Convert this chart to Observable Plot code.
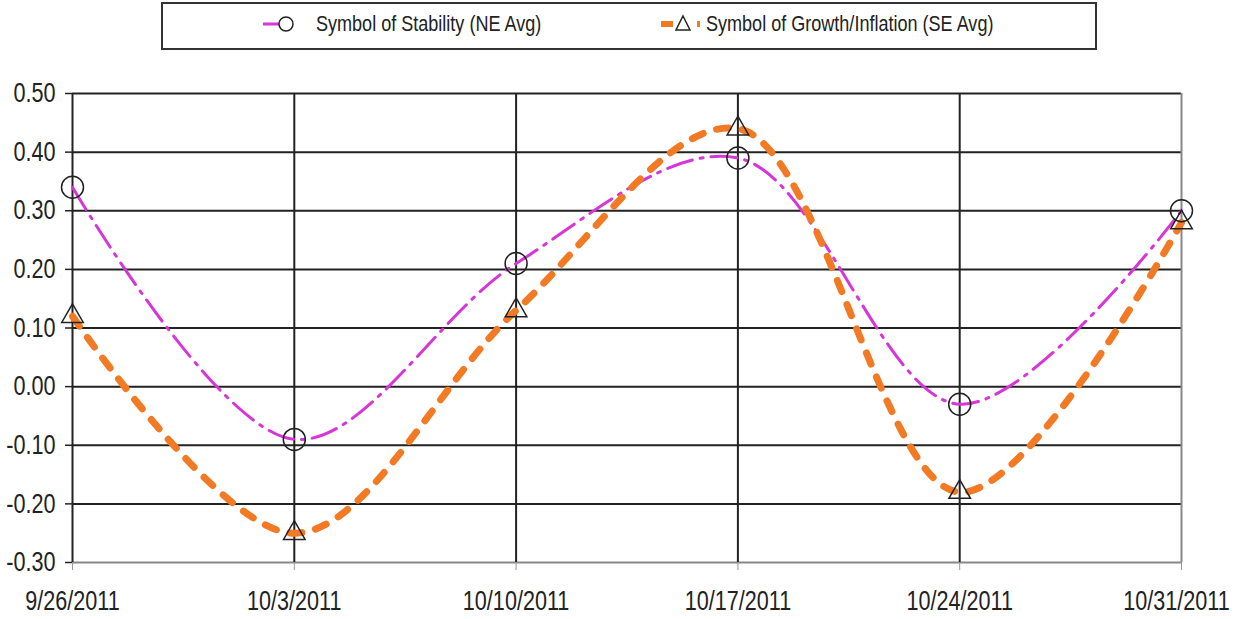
<!DOCTYPE html>
<html>
<head>
<meta charset="utf-8">
<script src="https://cdn.jsdelivr.net/npm/d3@7"></script>
<script src="https://cdn.jsdelivr.net/npm/@observablehq/plot@0.6"></script>
<style>
  html, body { margin: 0; padding: 0; background: #fff; }
  body { width: 1240px; height: 619px; overflow: hidden; font-family: "Liberation Sans", Arial, sans-serif; }
  #legend { position: relative; height: 52px; }
  #legend .box { position: absolute; left: 161px; top: 2px; width: 932px; height: 44px; border: 2px solid #333; }
  #legend .item { position: absolute; top: 0; height: 48px; display: flex; align-items: center; font-size: 22px; color: #222; white-space: nowrap; }
  #legend .item span { display: inline-block; transform: scaleX(0.82); transform-origin: 0 50%; }
  #legend svg { display: block; }
</style>
</head>
<body>
<div id="legend"></div>
<div id="chart"></div>
<script>
// ---- data ----
const dates = ["2011-09-26", "2011-10-03", "2011-10-10", "2011-10-17", "2011-10-24", "2011-10-31"];
const stabilityNE = [0.34, -0.09, 0.21, 0.39, -0.03, 0.30];
const growthSE = [0.12, -0.25, 0.13, 0.44, -0.18, 0.28];
const seriesNames = ["Symbol of Stability (NE Avg)", "Symbol of Growth/Inflation (SE Avg)"];
const yTicks = [-0.3, -0.2, -0.1, 0, 0.1, 0.2, 0.3, 0.4, 0.5];

const xDates = dates.map(d => new Date(d + "T00:00:00Z"));
const ne = xDates.map((d, i) => ({date: d, value: stabilityNE[i]}));
const se = xDates.map((d, i) => ({date: d, value: growthSE[i]}));

const magenta = "#d835d8";
const orange = "#f27a24";
const ink = "#222";
const fontFam = '"Liberation Sans", Arial, sans-serif';
const narrow = 0.8;

// ---- legend (HTML above the SVG) ----
const legend = document.getElementById("legend");
legend.innerHTML = `
  <div class="box"></div>
  <div class="item" style="left:262px">
    <svg width="50" height="24" viewBox="0 0 50 24">
      <line x1="1" y1="12" x2="46" y2="12" stroke="${magenta}" stroke-width="3" stroke-dasharray="16,6,4,20"/>
      <circle cx="24" cy="12" r="7" fill="#fff" stroke="${ink}" stroke-width="1.5"/>
    </svg>
    <span style="margin-left:4px">${seriesNames[0]}</span>
  </div>
  <div class="item" style="left:658px">
    <svg width="44" height="24" viewBox="0 0 44 24">
      <line x1="3" y1="12" x2="42" y2="12" stroke="${orange}" stroke-width="6" stroke-dasharray="12,24,4,20"/>
      <path d="M25,4 L32,18 L18,18 Z" fill="none" stroke="${ink}" stroke-width="1.5"/>
    </svg>
    <span style="margin-left:4px">${seriesNames[1]}</span>
  </div>`;

// ---- chart ----
const fmtDate = d => `${d.getUTCMonth() + 1}/${d.getUTCDate()}/${d.getUTCFullYear()}`;

const chart = Plot.plot({
  width: 1240,
  height: 567,
  marginLeft: 72,
  marginRight: 59,
  marginTop: 41,
  marginBottom: 57,
  style: {fontFamily: fontFam, fontSize: "27px", color: ink, background: "#fff"},
  x: {type: "utc", domain: [xDates[0], xDates[xDates.length - 1]]},
  y: {domain: [-0.3, 0.5]},
  marks: [
    Plot.ruleY(yTicks.filter(v => v > -0.3), {y: d => d, stroke: ink, strokeWidth: 2}),
    Plot.ruleY([-0.3], {stroke: "#888", strokeWidth: 2}),
    Plot.ruleX(xDates.slice(0, -1), {x: d => d, stroke: ink, strokeWidth: 2}),
    Plot.ruleX(xDates.slice(-1), {x: d => d, stroke: "#888", strokeWidth: 2}),
    Plot.axisY({ticks: yTicks, tickFormat: d => d.toFixed(2), tickSize: 7, tickPadding: 10, label: null, stroke: ink, strokeWidth: 1.5}),
    Plot.axisX({ticks: xDates, tickFormat: fmtDate, tickSize: 8, tickPadding: 20, label: null, stroke: "#999"}),
    Plot.line(ne, {x: "date", y: "value", curve: "catmull-rom", stroke: magenta, strokeWidth: 3, strokeDasharray: "26,8,3,8"}),
    Plot.line(se, {x: "date", y: "value", curve: "catmull-rom", stroke: orange, strokeWidth: 7, strokeDasharray: "12,14", strokeLinecap: "round"}),
    Plot.dot(ne, {x: "date", y: "value", symbol: "circle", r: 11, fill: "none", stroke: ink, strokeWidth: 1.5}),
    Plot.dot(se, {x: "date", y: "value", symbol: "triangle", r: 8, fill: "none", stroke: ink, strokeWidth: 1.5})
  ]
});
document.getElementById("chart").appendChild(chart);

// condense the tick labels horizontally (narrow sans look) without moving their anchors
chart.querySelectorAll("text").forEach(t => {
  const w = t.getComputedTextLength();
  if (w > 0) {
    t.setAttribute("textLength", (w * narrow).toFixed(1));
    t.setAttribute("lengthAdjust", "spacingAndGlyphs");
  }
  // the last date label sits slightly left of its tick, as in the reference
  if (t.textContent === fmtDate(xDates[xDates.length - 1])) t.setAttribute("dx", "-5");
});
</script>
</body>
</html>
